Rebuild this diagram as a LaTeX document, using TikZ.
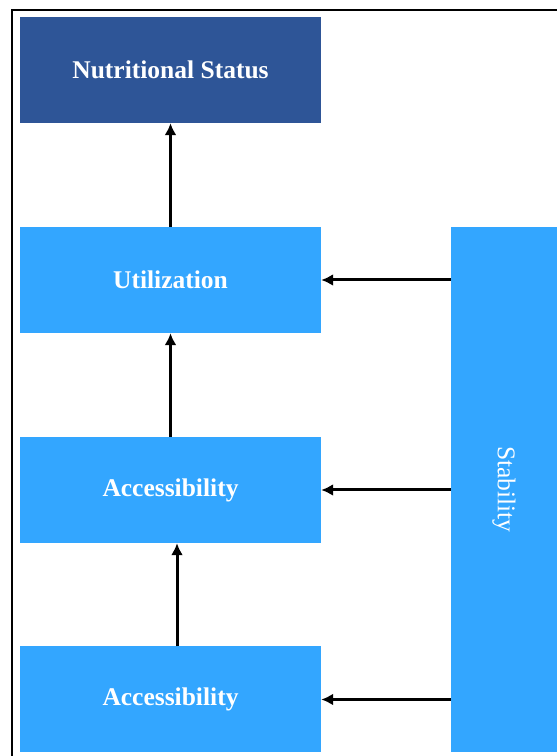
\documentclass[tikz,border=0pt]{standalone}
\usepackage{fontspec}
\setmainfont{Liberation Serif}
\usetikzlibrary{arrows.meta}
\definecolor{darkbox}{RGB}{46,85,151}
\definecolor{lightbox}{RGB}{51,166,255}
\tikzset{
	factor/.style={fill=lightbox,text=white,minimum width=301pt,minimum height=106pt,inner sep=0pt,font=\fontsize{25.5}{30}\selectfont\bfseries},
	link/.style={-{Latex[length=12pt,width=12pt]},line width=3pt}
}
\begin{document}
\begin{tikzpicture}[x=1pt,y=1pt]
		\useasboundingbox (0,0) rectangle (557,756);
		\clip (0,0) rectangle (557,756);
		\draw[line width=2.5pt] (12,-10) rectangle (570,746);
		
		\node[factor,fill=darkbox] (nut) at (170.5,686) {Nutritional Status};
		\node[factor] (util) at (170.5,476) {Utilization};
		\node[factor] (acc1) at (170.5,266) {Accessibility};
		\node[factor] (acc2) at (170.5,56.5) {Accessibility};
		\node[factor,minimum width=106pt,minimum height=525pt] (stab) at (504,266.5) {};
		\node[text=white,rotate=-90,font=\fontsize{25.5}{30}\selectfont] (stablabel) at (stab.center) {Stability};
		
		\draw[link] (util) -- (nut);
		\draw[link] (acc1) -- (util);
		\draw[link] ([xshift=6.5pt]acc2.north) -- ([xshift=6.5pt]acc1.south);
		\draw[link] (stab.west |- util.east) -- (util.east);
		\draw[link] (stab.west |- acc1.east) -- (acc1.east);
		\draw[link] (stab.west |- acc2.east) -- (acc2.east);
	\end{tikzpicture}
\end{document}
